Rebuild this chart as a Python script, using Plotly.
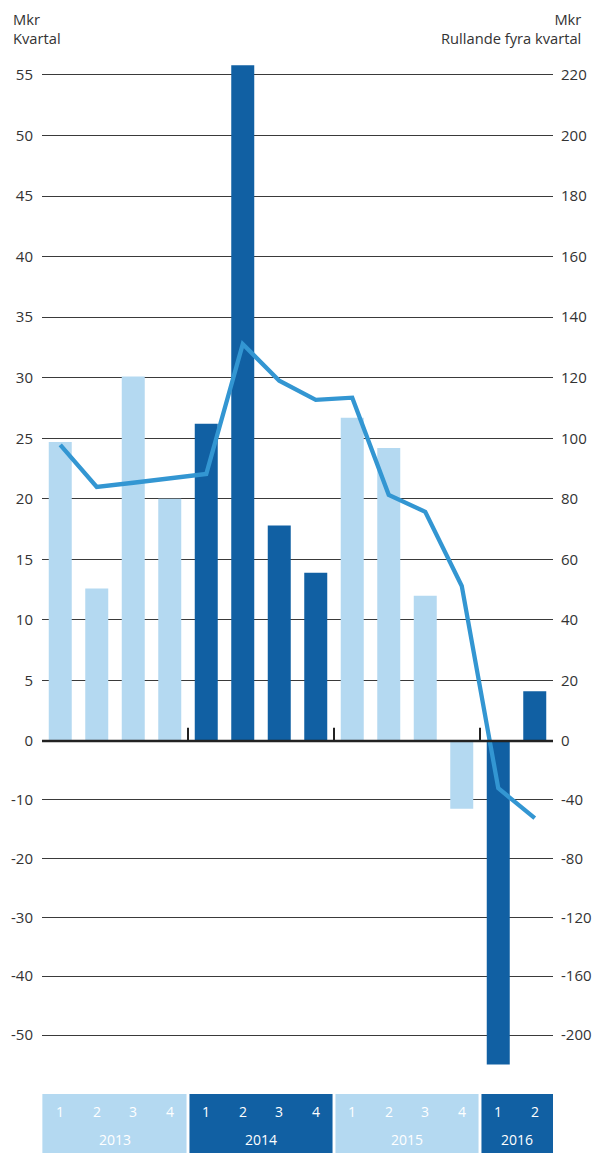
import plotly.graph_objects as go

# ---------------- data ----------------
years = ["2013", "2014", "2015", "2016"]
quarters_per_year = [4, 4, 4, 2]
quarter_labels = ["1", "2", "3", "4", "1", "2", "3", "4", "1", "2", "3", "4", "1", "2"]
quarterly = [24.7, 12.6, 30.1, 20.0, 26.2, 55.8, 17.8, 13.9, 26.7, 24.2, 12.0, -11.5, -55.0, 4.1]
rolling = [97.8, 83.9, 85.3, 86.8, 88.2, 131.1, 119.0, 112.7, 113.4, 81.3, 75.7, 51.2, -32.1, -52.5]
left_ticks = [55, 50, 45, 40, 35, 30, 25, 20, 15, 10, 5, 0, -10, -20, -30, -40, -50]
right_ticks = [220, 200, 180, 160, 140, 120, 100, 80, 60, 40, 20, 0, -40, -80, -120, -160, -200]

# ---------------- styling ----------------
LIGHT = "#b4d9f1"
DARK = "#1160a3"
LINE = "#3396d2"
TXT = "#333333"
FONT = "Open Sans"
NEG = 0.4856          # negative part of the axis is compressed
RATIO = 4             # right axis = 4 x left axis
PAGE_OFFSET = 8       # default body margin of the html page


def t(v, scale=1):
    v = v / scale
    return v if v >= 0 else v * NEG


# categories
cats = []
year_of = []
for yi, (y, n) in enumerate(zip(years, quarters_per_year)):
    for q in range(n):
        cats.append(f"{y} K{q+1}")
        year_of.append(yi)

bar_colors = [LIGHT if yi % 2 == 0 else DARK for yi in year_of]

fig = go.Figure()
fig.add_trace(go.Bar(
    x=cats, y=[t(v) for v in quarterly],
    marker=dict(color=bar_colors, line=dict(width=0)),
    customdata=quarterly, hovertemplate="%{customdata}<extra></extra>",
    yaxis="y",
))
fig.add_trace(go.Scatter(
    x=cats, y=[RATIO * t(v, RATIO) for v in rolling],
    mode="lines", line=dict(color=LINE, width=4.3),
    customdata=rolling, hovertemplate="%{customdata}<extra></extra>",
    yaxis="y2",
))

W, H = 601 - PAGE_OFFSET, 1153 - PAGE_OFFSET
top_px, zero_px, bottom_px, unit_px = 60, 741, 1070, 12.11   # screen coords
left_px, right_px = 42, 553
ymax = (zero_px - top_px) / unit_px
ymin = -(bottom_px - zero_px) / unit_px

shapes = []
# zero line
shapes.append(dict(type="line", xref="paper", x0=0, x1=1, yref="y", y0=0, y1=0,
                   line=dict(color="#222222", width=2.6), layer="above"))
# year separators on zero line + category band
start = 0
for yi, n in enumerate(quarters_per_year):
    end = start + n - 1
    if yi > 0:
        shapes.append(dict(type="line", xref="x", x0=start - 0.5, x1=start - 0.5,
                           yref="y", y0=0, y1=1.1,
                           line=dict(color="#222222", width=2), layer="above"))
    x0 = start - 0.5 + (0.04 if yi > 0 else 0.01)
    x1 = end + 0.5 - (0.04 if yi < len(years) - 1 else -0.03)
    shapes.append(dict(type="rect", xref="x", x0=x0, x1=x1, yref="paper",
                       y0=-0.0237, y1=-0.09, fillcolor=LIGHT if yi % 2 == 0 else DARK,
                       line=dict(width=0), layer="above"))
    start = end + 1

annotations = []
for i, c in enumerate(cats):
    annotations.append(dict(x=c, xref="x", y=-0.0406, yref="paper", text=quarter_labels[i],
                            showarrow=False, font=dict(family=FONT, size=14, color="white"),
                            xanchor="center", yanchor="middle"))
start = 0
for yi, n in enumerate(quarters_per_year):
    annotations.append(dict(x=start + (n - 1) / 2, xref="x", y=-0.0693, yref="paper",
                            text=years[yi], showarrow=False,
                            font=dict(family=FONT, size=14, color="white"),
                            xanchor="center", yanchor="middle"))
    start += n

annotations.append(dict(x=-0.0587, xref="paper", y=1.0515, yref="paper",
                        text="Mkr<br>Kvartal", showarrow=False, align="left",
                        xanchor="left", yanchor="top", borderpad=0,
                        font=dict(family=FONT, size=14.7, color=TXT)))
annotations.append(dict(x=1.0562, xref="paper", y=1.0515, yref="paper",
                        text="Mkr<br>Rullande fyra kvartal", showarrow=False, align="right",
                        xanchor="right", yanchor="top", borderpad=0,
                        font=dict(family=FONT, size=14.7, color=TXT)))

fig.update_layout(
    width=W, height=H,
    margin=dict(l=left_px - PAGE_OFFSET, r=W - (right_px - PAGE_OFFSET),
                t=top_px - PAGE_OFFSET, b=H - (bottom_px - PAGE_OFFSET), autoexpand=False),
    paper_bgcolor="white", plot_bgcolor="white",
    showlegend=False, bargap=0.37,
    font=dict(family=FONT, size=15, color=TXT),
    xaxis=dict(type="category", showticklabels=False, showgrid=False,
               zeroline=False, showline=False, ticks="", automargin=False,
               range=[-0.5, len(cats) - 0.5]),
    yaxis=dict(range=[ymin, ymax], tickvals=[t(v) for v in left_ticks],
               ticktext=[str(v) for v in left_ticks], automargin=False,
               showgrid=True, gridcolor="#3a3a3a", gridwidth=1.4,
               zeroline=False, showline=False,
               ticks="outside", ticklen=5, tickcolor="rgba(0,0,0,0)",
               tickfont=dict(family=FONT, size=15, color=TXT)),
    yaxis2=dict(range=[RATIO * ymin, RATIO * ymax], overlaying="y", side="right",
                tickvals=[RATIO * t(v, RATIO) for v in right_ticks],
                ticktext=[str(v) for v in right_ticks], automargin=False,
                showgrid=False, zeroline=False, showline=False,
                ticks="outside", ticklen=4, tickcolor="rgba(0,0,0,0)",
                tickfont=dict(family=FONT, size=15, color=TXT)),
    shapes=shapes, annotations=annotations,
)

fig.write_html("out.html")
